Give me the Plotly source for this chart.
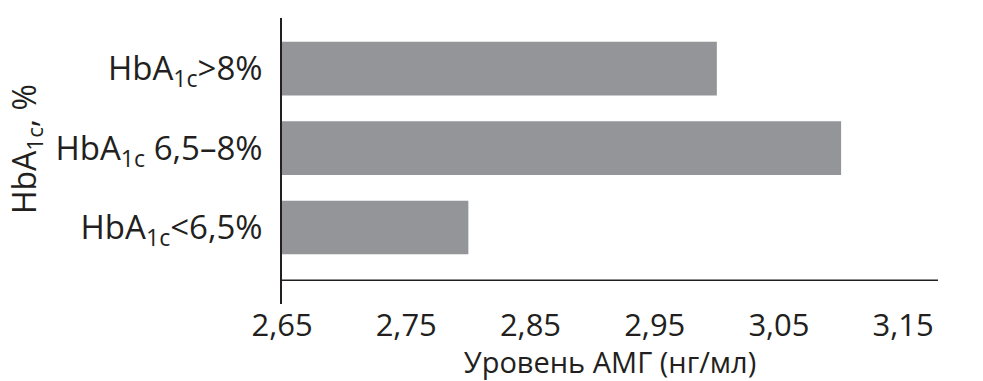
import plotly.graph_objects as go

categories = ["HbA<sub>1c</sub><6,5%", "HbA<sub>1c</sub> 6,5–8%", "HbA<sub>1c</sub>>8%"]
values = [2.80, 3.10, 3.00]
tick_vals = [2.65, 2.75, 2.85, 2.95, 3.05, 3.15]
tick_text = ["2,65", "2,75", "2,85", "2,95", "3,05", "3,15"]

FONT = "Open Sans"
BAR_COLOR = "#939598"

fig = go.Figure(
    go.Bar(
        y=categories,
        x=values,
        orientation="h",
        marker=dict(color=BAR_COLOR, line=dict(width=0)),
        hoverinfo="x+y",
    )
)

fig.update_layout(
    width=983,
    height=381,
    margin=dict(l=282, r=45, t=18, b=75),
    paper_bgcolor="white",
    plot_bgcolor="white",
    bargap=0.325,
    showlegend=False,
    font=dict(family=FONT, color="#231f20"),
    xaxis=dict(
        range=[2.65, 3.178],
        tickvals=tick_vals,
        ticktext=tick_text,
        showgrid=False,
        zeroline=False,
        showline=False,
        ticks="",
        tickfont=dict(size=31, family=FONT, color="#231f20"),
        title=dict(text="Уровень АМГ (нг/мл)", font=dict(size=29, family=FONT, color="#231f20"), standoff=4),
    ),
    yaxis=dict(
        range=[-0.9625, 2.6375],
        showgrid=False,
        zeroline=False,
        showline=True,
        linecolor="#231f20",
        linewidth=1.5,
        ticks="",
        ticklabelstandoff=11,
        tickfont=dict(size=33, family=FONT, color="#231f20"),
    ),
    annotations=[
        dict(
            text="HbA<sub>1c</sub>, %",
            textangle=-90,
            xref="paper", yref="paper",
            x=-(282 - 26) / 656, y=(306 - 150) / 288,
            xanchor="center", yanchor="middle",
            showarrow=False,
            font=dict(size=32, family=FONT, color="#231f20"),
        )
    ],
    shapes=[
        dict(
            type="line",
            xref="x domain", yref="y",
            x0=0, x1=1, y0=-0.6625, y1=-0.6625,
            line=dict(color="#231f20", width=1.5),
        )
    ],
)

fig.write_html("out.html")
